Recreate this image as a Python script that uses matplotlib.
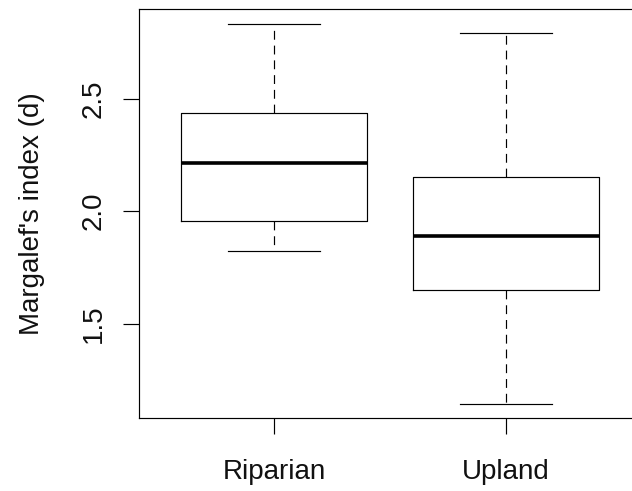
import matplotlib
matplotlib.use('Agg')
import matplotlib.pyplot as plt

groups = ['Riparian', 'Upland']
whis_lo = [1.825, 1.145]
q1 = [1.958, 1.650]
med = [2.213, 1.890]
q3 = [2.436, 2.154]
whis_hi = [2.834, 2.792]

plt.rcParams['font.family'] = ['Liberation Sans', 'DejaVu Sans']

stats = []
for i in range(len(groups)):
    stats.append({'label': groups[i], 'whislo': whis_lo[i], 'q1': q1[i],
                  'med': med[i], 'q3': q3[i], 'whishi': whis_hi[i], 'fliers': []})

fig = plt.figure(figsize=(6.32, 4.91), dpi=100)
ax = fig.add_axes([0.2207, 0.1487, 0.7927, 0.833])

ax.bxp(stats, positions=[1, 2], widths=0.8, capwidths=0.4, showfliers=False,
       boxprops=dict(color='black', linewidth=0.85),
       medianprops=dict(color='black', linewidth=2.6, solid_capstyle='butt'),
       whiskerprops=dict(color='black', linewidth=0.85, linestyle=(0, (7.5, 5))),
       capprops=dict(color='black', linewidth=0.85))

ax.set_xlim(0.42, 2.58)
ax.set_ylim(1.081, 2.899)
ax.set_yticks([1.5, 2.0, 2.5])
ax.set_yticklabels(['1.5', '2.0', '2.5'], rotation=90, va='center')
ax.set_xticks([1, 2])
ax.set_xticklabels(groups)

ax.tick_params(axis='both', direction='out', length=11.5, width=0.85,
               labelsize=20, color='black', labelcolor='#111111')
ax.tick_params(axis='y', pad=12)
ax.tick_params(axis='x', pad=18)

for s in ax.spines.values():
    s.set_linewidth(0.85)

ax.set_ylabel("Margalef's index (d)", fontsize=20, va='center', color='#111111')
ax.yaxis.set_label_coords(-0.215, 0.5)

fig.savefig('out.png', dpi=100)
